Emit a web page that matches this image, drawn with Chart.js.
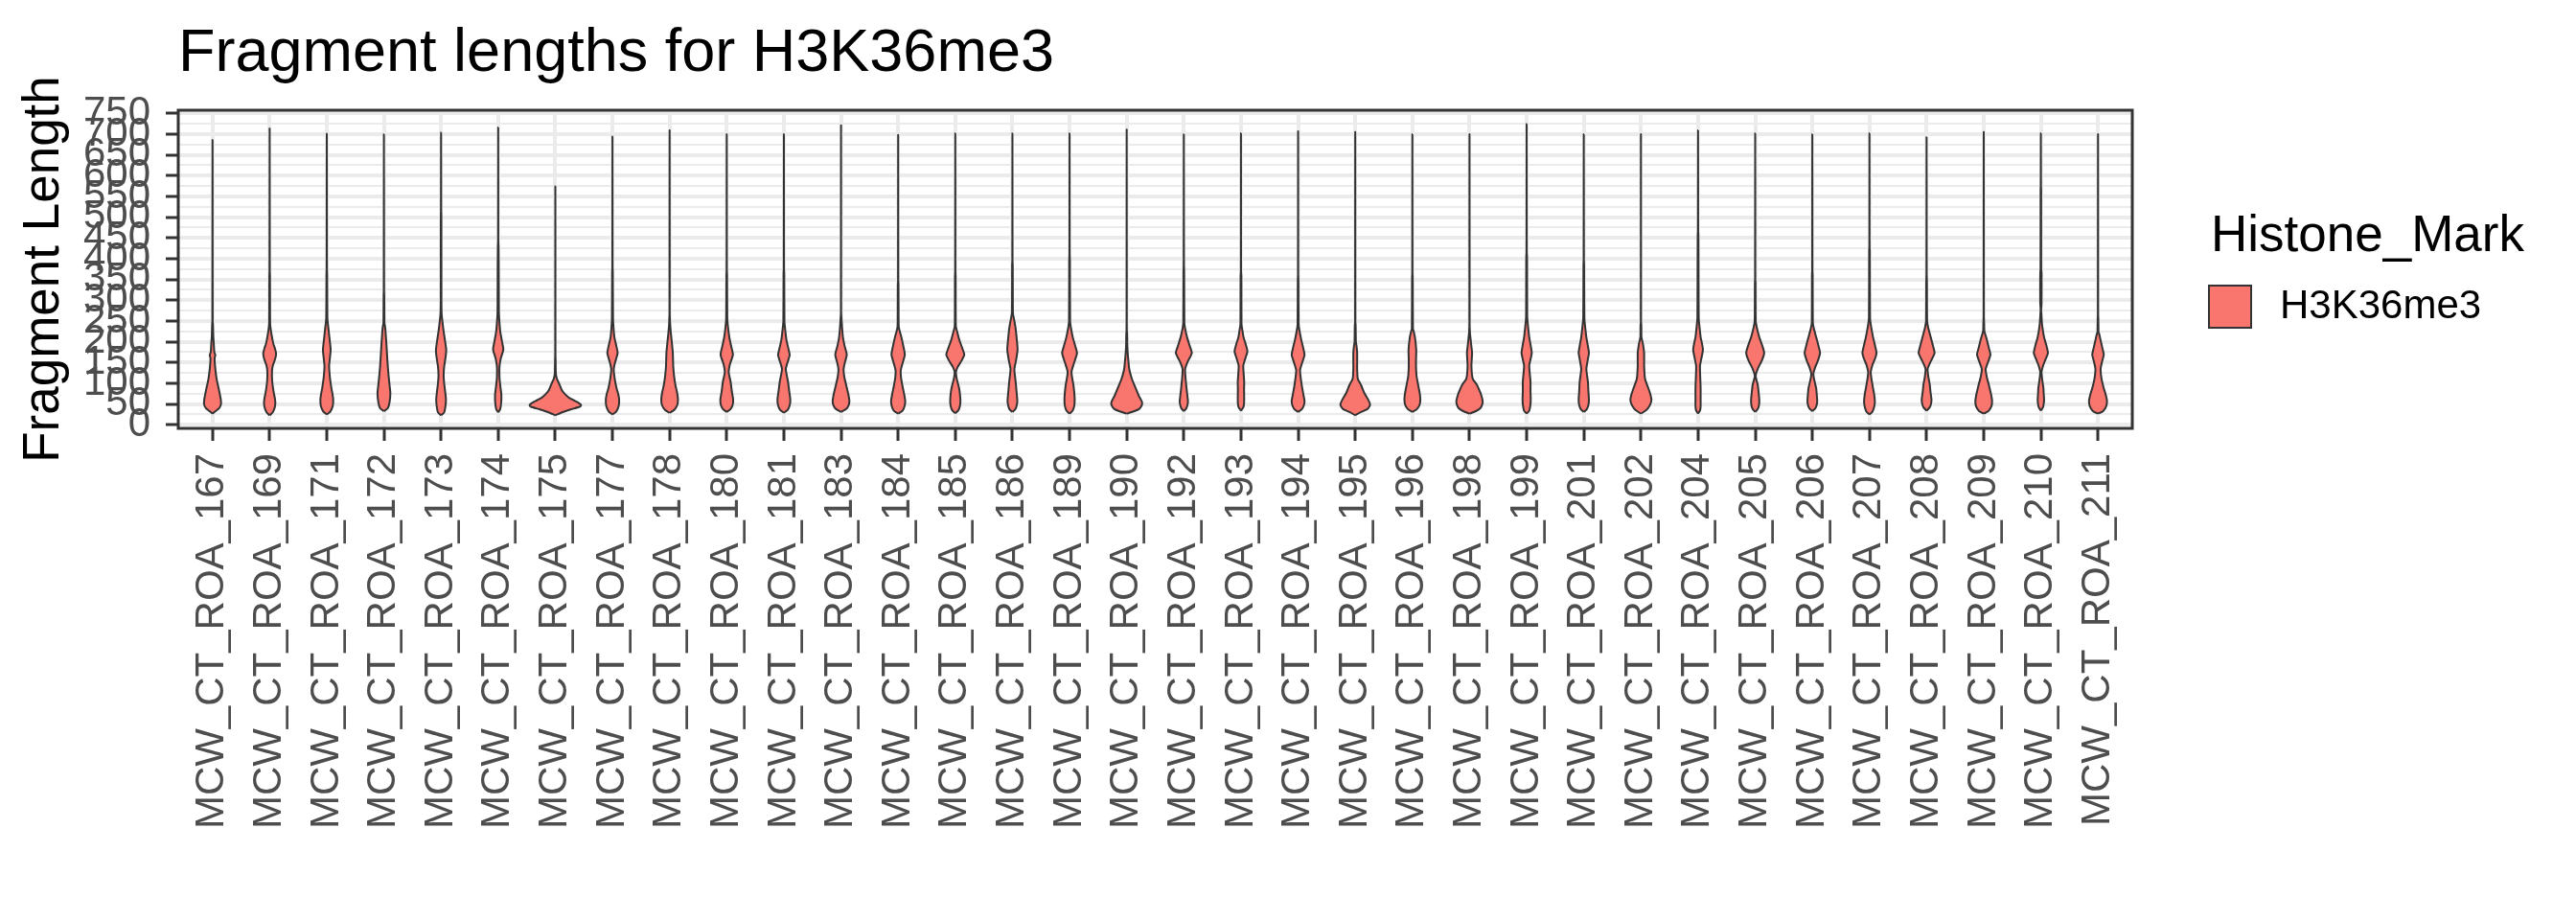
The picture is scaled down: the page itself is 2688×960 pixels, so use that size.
<!DOCTYPE html>
<html>
<head>
<meta charset="utf-8">
<title>Fragment lengths for H3K36me3</title>
<script src="https://cdn.jsdelivr.net/npm/chart.js@4.4.1/dist/chart.umd.min.js"></script>
<style>
  html, body { margin: 0; padding: 0; background: #fff; }
  canvas { display: block; }
</style>
</head>
<body>
<canvas id="violinChart" width="2688" height="960"></canvas>
<script>
// Samples along the x axis
const samples = [
  'MCW_CT_ROA_167', 'MCW_CT_ROA_169', 'MCW_CT_ROA_171', 'MCW_CT_ROA_172', 'MCW_CT_ROA_173',
  'MCW_CT_ROA_174', 'MCW_CT_ROA_175', 'MCW_CT_ROA_177', 'MCW_CT_ROA_178', 'MCW_CT_ROA_180',
  'MCW_CT_ROA_181', 'MCW_CT_ROA_183', 'MCW_CT_ROA_184', 'MCW_CT_ROA_185', 'MCW_CT_ROA_186',
  'MCW_CT_ROA_189', 'MCW_CT_ROA_190', 'MCW_CT_ROA_192', 'MCW_CT_ROA_193', 'MCW_CT_ROA_194',
  'MCW_CT_ROA_195', 'MCW_CT_ROA_196', 'MCW_CT_ROA_198', 'MCW_CT_ROA_199', 'MCW_CT_ROA_201',
  'MCW_CT_ROA_202', 'MCW_CT_ROA_204', 'MCW_CT_ROA_205', 'MCW_CT_ROA_206', 'MCW_CT_ROA_207',
  'MCW_CT_ROA_208', 'MCW_CT_ROA_209', 'MCW_CT_ROA_210', 'MCW_CT_ROA_211'
];

// Fragment length ticks (major)
const lengthTicks = [0, 50, 100, 150, 200, 250, 300, 350, 400, 450, 500, 550, 600, 650, 700, 750];

const markName = 'H3K36me3';
const markColor = '#F8766D';

// Violin outline per sample: [fragment length, relative density], from the minimum up to the maximum length
const profiles = [
  [[27,0],[33,0.12],[40,0.26],[50,0.33],[62,0.32],[75,0.28],[90,0.23],[110,0.16],[140,0.10],[160,0.08],[168,0.11],[175,0.07],[195,0.05],[211,0.03],[242,0.015],[250,0.006],[686,0]],
  [[23,0],[30,0.12],[42,0.2],[54,0.22],[65,0.2],[77,0.16],[104,0.1],[127,0.09],[142,0.12],[160,0.22],[172,0.25],[185,0.2],[196,0.14],[219,0.07],[242,0.02],[358,0.012],[370,0.005],[714,0]],
  [[25,0],[32,0.14],[45,0.23],[61,0.25],[75,0.22],[88,0.18],[115,0.12],[142,0.09],[160,0.12],[181,0.15],[200,0.12],[211,0.1],[240,0.05],[258,0.02],[361,0.012],[375,0.005],[701,0]],
  [[33,0],[40,0.15],[55,0.22],[77,0.25],[95,0.22],[119,0.18],[150,0.14],[181,0.11],[210,0.08],[234,0.05],[245,0.02],[311,0.012],[320,0.005],[700,0]],
  [[23,0],[30,0.12],[45,0.17],[61,0.19],[80,0.16],[100,0.12],[119,0.1],[140,0.12],[165,0.18],[181,0.2],[200,0.16],[225,0.1],[250,0.05],[269,0.02],[300,0.012],[503,0.01],[515,0.004],[704,0]],
  [[30,0],[38,0.08],[50,0.11],[62,0.125],[75,0.12],[95,0.08],[115,0.05],[140,0.05],[160,0.1],[181,0.2],[200,0.15],[225,0.08],[255,0.04],[275,0.025],[365,0.02],[431,0.012],[440,0.004],[716,0]],
  [[23,0],[29,0.22],[37,0.6],[44,0.97],[48,1.0],[54,0.875],[59,0.72],[65,0.54],[73,0.39],[84,0.25],[100,0.14],[111,0.06],[123,0.02],[154,0.012],[165,0.004],[575,0]],
  [[25,0],[32,0.15],[45,0.24],[61,0.26],[75,0.22],[88,0.16],[110,0.09],[134,0.05],[150,0.1],[173,0.2],[190,0.15],[211,0.075],[235,0.04],[258,0.02],[369,0.012],[380,0.004],[695,0]],
  [[29,0],[36,0.18],[48,0.3],[61,0.325],[78,0.29],[96,0.225],[120,0.17],[142,0.14],[173,0.125],[196,0.09],[220,0.05],[242,0.02],[255,0.012],[265,0.004],[709,0]],
  [[31,0],[38,0.15],[48,0.23],[61,0.25],[80,0.2],[104,0.15],[127,0.075],[145,0.12],[169,0.24],[190,0.17],[211,0.1],[235,0.05],[258,0.02],[361,0.012],[372,0.004],[700,0]],
  [[29,0],[36,0.15],[48,0.23],[61,0.25],[80,0.21],[104,0.16],[134,0.075],[150,0.14],[168,0.225],[185,0.17],[204,0.1],[230,0.05],[250,0.02],[365,0.012],[375,0.004],[700,0]],
  [[31,0],[38,0.2],[48,0.3],[58,0.325],[75,0.28],[96,0.2],[115,0.13],[134,0.1],[150,0.15],[169,0.225],[190,0.14],[211,0.075],[235,0.04],[254,0.02],[262,0.01],[270,0.004],[721,0]],
  [[27,0],[34,0.17],[45,0.25],[58,0.275],[75,0.23],[96,0.16],[115,0.11],[131,0.1],[150,0.18],[169,0.26],[190,0.2],[211,0.125],[228,0.05],[238,0.02],[338,0.012],[348,0.004],[698,0]],
  [[28,0],[35,0.12],[45,0.18],[58,0.2],[75,0.18],[88,0.15],[110,0.06],[127,0.025],[140,0.1],[155,0.25],[169,0.35],[185,0.27],[204,0.16],[225,0.07],[238,0.02],[358,0.012],[368,0.004],[702,0]],
  [[31,0],[38,0.12],[48,0.17],[58,0.19],[80,0.16],[104,0.125],[134,0.075],[155,0.14],[181,0.2],[205,0.17],[234,0.12],[255,0.06],[269,0.02],[385,0.012],[395,0.004],[702,0]],
  [[27,0],[34,0.12],[45,0.18],[61,0.2],[80,0.18],[96,0.15],[127,0.075],[150,0.18],[173,0.29],[190,0.22],[211,0.125],[235,0.05],[250,0.02],[400,0.012],[410,0.004],[702,0]],
  [[27,0],[33,0.3],[38,0.48],[46,0.58],[54,0.6],[61,0.55],[70,0.47],[88,0.35],[111,0.2],[134,0.1],[165,0.05],[188,0.025],[219,0.015],[230,0.004],[711,0]],
  [[33,0],[40,0.1],[50,0.15],[58,0.16],[80,0.12],[110,0.07],[134,0.05],[152,0.15],[173,0.31],[190,0.23],[211,0.125],[232,0.05],[246,0.02],[373,0.012],[383,0.004],[700,0]],
  [[34,0],[42,0.09],[52,0.12],[65,0.125],[85,0.12],[104,0.125],[142,0.09],[160,0.17],[177,0.25],[195,0.18],[211,0.1],[230,0.05],[242,0.02],[358,0.015],[368,0.004],[702,0]],
  [[31,0],[38,0.15],[48,0.23],[58,0.25],[75,0.2],[96,0.14],[131,0.075],[150,0.16],[168,0.25],[185,0.2],[204,0.125],[228,0.05],[242,0.02],[350,0.012],[360,0.004],[707,0]],
  [[23,0],[31,0.225],[38,0.475],[45,0.56],[50,0.575],[61,0.5],[77,0.35],[96,0.225],[111,0.1],[134,0.075],[173,0.075],[190,0.05],[200,0.025],[238,0.015],[248,0.004],[705,0]],
  [[31,0],[38,0.18],[48,0.28],[61,0.31],[75,0.29],[88,0.25],[119,0.16],[150,0.14],[181,0.15],[211,0.1],[225,0.05],[231,0.02],[354,0.012],[364,0.004],[700,0]],
  [[27,0],[33,0.25],[40,0.42],[50,0.5],[58,0.51],[73,0.45],[85,0.37],[96,0.29],[111,0.125],[142,0.075],[173,0.1],[196,0.06],[219,0.02],[228,0.012],[236,0.004],[700,0]],
  [[27,0],[34,0.1],[45,0.14],[61,0.16],[80,0.15],[104,0.15],[142,0.1],[160,0.16],[173,0.2],[190,0.16],[211,0.1],[240,0.05],[261,0.02],[404,0.015],[414,0.004],[725,0]],
  [[31,0],[38,0.12],[48,0.18],[61,0.2],[80,0.18],[104,0.16],[134,0.1],[155,0.15],[173,0.2],[190,0.16],[211,0.1],[238,0.05],[258,0.02],[385,0.012],[395,0.004],[700,0]],
  [[27,0],[33,0.15],[38,0.25],[50,0.37],[61,0.41],[75,0.36],[88,0.29],[111,0.16],[142,0.125],[173,0.125],[196,0.075],[211,0.02],[238,0.015],[248,0.004],[700,0]],
  [[27,0],[35,0.08],[45,0.1],[61,0.1],[88,0.1],[115,0.085],[142,0.075],[160,0.13],[181,0.19],[200,0.14],[211,0.1],[240,0.05],[258,0.025],[346,0.018],[457,0.012],[467,0.004],[709,0]],
  [[31,0],[38,0.1],[48,0.15],[61,0.16],[80,0.13],[96,0.1],[110,0.04],[119,0.015],[135,0.1],[155,0.26],[173,0.35],[190,0.28],[211,0.16],[235,0.06],[250,0.02],[342,0.012],[352,0.004],[702,0]],
  [[33,0],[40,0.12],[48,0.17],[58,0.19],[75,0.17],[88,0.15],[110,0.07],[123,0.04],[140,0.12],[155,0.22],[173,0.3],[190,0.24],[211,0.15],[232,0.06],[246,0.02],[361,0.012],[371,0.004],[700,0]],
  [[25,0],[32,0.12],[45,0.19],[58,0.21],[75,0.18],[88,0.14],[110,0.08],[127,0.05],[145,0.12],[160,0.22],[173,0.275],[190,0.22],[211,0.14],[238,0.06],[258,0.02],[419,0.012],[429,0.004],[702,0]],
  [[34,0],[42,0.12],[50,0.17],[61,0.19],[80,0.15],[96,0.125],[115,0.07],[134,0.04],[150,0.14],[160,0.22],[173,0.31],[190,0.25],[211,0.16],[235,0.06],[250,0.02],[350,0.012],[360,0.004],[693,0]],
  [[27,0],[33,0.18],[45,0.3],[58,0.325],[75,0.28],[96,0.2],[115,0.12],[134,0.075],[150,0.16],[169,0.26],[185,0.2],[204,0.125],[220,0.05],[227,0.02],[250,0.012],[260,0.004],[705,0]],
  [[34,0],[42,0.08],[50,0.11],[61,0.125],[75,0.11],[88,0.1],[110,0.05],[127,0.025],[145,0.1],[160,0.2],[173,0.275],[190,0.22],[211,0.125],[240,0.05],[265,0.02],[280,0.01],[292,0.025],[365,0.025],[375,0.012],[566,0.01],[576,0.004],[702,0]],
  [[27,0],[33,0.2],[45,0.32],[58,0.35],[75,0.29],[88,0.225],[110,0.14],[134,0.1],[150,0.15],[169,0.225],[185,0.17],[204,0.1],[218,0.05],[223,0.02],[254,0.012],[264,0.004],[700,0]]
];

const FONT = '"Liberation Sans", Arial, sans-serif';
const HALF_WIDTH = 0.45; // violin width 0.9 of a category slot

// Each violin is a closed line: up the right side, back down the left side
const datasets = profiles.map((prof, i) => {
  const right = prof.map(([len, d]) => ({ x: i + d * HALF_WIDTH, y: len }));
  const left = prof.slice().reverse().map(([len, d]) => ({ x: i - d * HALF_WIDTH, y: len }));
  return {
    label: markName,
    data: right.concat(left.slice(1)),
    borderColor: '#333333',
    borderWidth: 2,
    borderJoinStyle: 'round',
    backgroundColor: markColor,
    fill: 'shape',
    pointRadius: 0,
    tension: 0.2
  };
});

// Minor ticks halfway between majors
const allLengthTicks = lengthTicks.flatMap(v => v < 750 ? [v, v + 25] : [v]);

const panelBorder = {
  id: 'panelBorder',
  afterDatasetsDraw(chart) {
    const { ctx, chartArea: a } = chart;
    ctx.save();
    ctx.strokeStyle = '#333333';
    ctx.lineWidth = 3;
    ctx.strokeRect(a.left, a.top, a.right - a.left, a.bottom - a.top);
    ctx.restore();
  }
};

// ggplot style legend to the right of the panel
const markLegend = {
  id: 'markLegend',
  afterDraw(chart) {
    const { ctx, chartArea: a } = chart;
    const mid = (a.top + a.bottom) / 2;
    const x = a.right + 80;
    ctx.save();
    ctx.textBaseline = 'middle';
    ctx.fillStyle = '#000';
    ctx.font = '53px ' + FONT;
    ctx.fillText('Histone_Mark', x + 2, mid - 34);
    ctx.fillStyle = markColor;
    ctx.fillRect(x, mid + 17, 44, 44);
    ctx.strokeStyle = '#333333';
    ctx.lineWidth = 2;
    ctx.strokeRect(x, mid + 17, 44, 44);
    ctx.fillStyle = '#000';
    ctx.font = '42px ' + FONT;
    ctx.fillText(markName, x + 74, mid + 39);
    ctx.restore();
  }
};

new Chart(document.getElementById('violinChart'), {
  type: 'line',
  data: { datasets },
  plugins: [panelBorder, markLegend],
  options: {
    responsive: false,
    animation: false,
    devicePixelRatio: 1,
    layout: { padding: { left: 0, right: 463, top: 0, bottom: 0 } },
    plugins: {
      legend: { display: false },
      tooltip: { enabled: false },
      title: {
        display: true,
        text: 'Fragment lengths for H3K36me3',
        align: 'start',
        fullSize: false,
        color: '#000',
        font: { family: FONT, size: 63, weight: 'normal', lineHeight: 1 },
        padding: { top: 25, bottom: 27 }
      }
    },
    scales: {
      x: {
        type: 'linear',
        min: -0.6,
        max: samples.length - 0.4,
        afterBuildTicks: axis => { axis.ticks = samples.map((s, i) => ({ value: i })); },
        afterFit: scale => { scale.height = 513; },
        border: { display: false },
        grid: { color: '#EBEBEB', lineWidth: 4, tickColor: '#333333', tickWidth: 3, tickLength: 13 },
        ticks: {
          autoSkip: false,
          minRotation: 90,
          maxRotation: 90,
          padding: 13,
          color: '#4D4D4D',
          font: { family: FONT, size: 42 },
          callback: value => samples[value]
        }
      },
      y: {
        type: 'linear',
        min: -8.5,
        max: 757.6,
        afterBuildTicks: axis => { axis.ticks = allLengthTicks.map(v => ({ value: v })); },
        afterFit: scale => { scale.width = 186; },
        border: { display: false },
        grid: {
          color: '#EBEBEB',
          lineWidth: c => (c.tick && c.tick.value % 50 === 0) ? 4 : 2,
          tickColor: c => (c.tick && c.tick.value % 50 === 0) ? '#333333' : 'rgba(0,0,0,0)',
          tickWidth: 3,
          tickLength: 13
        },
        ticks: {
          autoSkip: false,
          padding: 16,
          color: '#4D4D4D',
          font: { family: FONT, size: 42 },
          callback: value => lengthTicks.includes(value) ? String(value) : ''
        },
        title: {
          display: true,
          text: 'Fragment Length',
          color: '#000',
          font: { family: FONT, size: 53, lineHeight: 1 },
          padding: { top: 20, bottom: 0 }
        }
      }
    }
  }
});
</script>
</body>
</html>
